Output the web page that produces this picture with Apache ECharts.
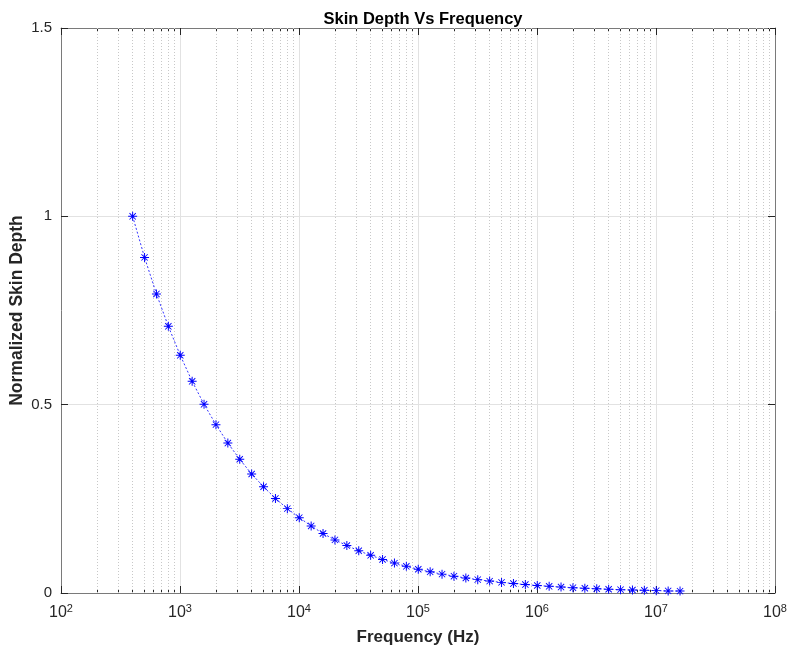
<!DOCTYPE html>
<html>
<head>
<meta charset="utf-8">
<script src="https://cdn.jsdelivr.net/npm/echarts@6/dist/echarts.min.js"></script>
<style>
  html, body { margin: 0; padding: 0; background: #ffffff; }
  #chart { width: 788px; height: 651px; }
</style>
</head>
<body>
<div id="chart"></div>
<script>
// Frequencies (Hz) of each sample
const frequency = [
  400, 503.6, 634.0, 798.1, 1005, 1265, 1592, 2005, 2524, 3177,
  4000, 5036, 6340, 7981, 10050, 12650, 15920, 20050, 25240, 31770,
  40000, 50360, 63400, 79810, 100500, 126500, 159200, 200500, 252400, 317700,
  400000, 503600, 634000, 798100, 1005000, 1265000, 1592000, 2005000, 2524000, 3177000,
  4000000, 5036000, 6340000, 7981000, 10050000, 12650000, 15920000
];
// Skin depth normalised to the value at the lowest frequency
const skinDepth = [
  1.000, 0.891, 0.794, 0.708, 0.631, 0.562, 0.501, 0.447, 0.398, 0.355,
  0.316, 0.282, 0.251, 0.224, 0.200, 0.178, 0.158, 0.141, 0.126, 0.112,
  0.100, 0.0891, 0.0794, 0.0708, 0.0631, 0.0562, 0.0501, 0.0447, 0.0398, 0.0355,
  0.0316, 0.0282, 0.0251, 0.0224, 0.0200, 0.0178, 0.0158, 0.0141, 0.0126, 0.0112,
  0.0100, 0.0089, 0.0079, 0.0071, 0.0063, 0.0056, 0.0050
];
// Decade tick exponents and the 2..9 minor tick positions of the log axis
const xDecadeExponents = [2, 3, 4, 5, 6, 7, 8];
const xMinorTicks = [
  200, 300, 400, 500, 600, 700, 800, 900,
  2000, 3000, 4000, 5000, 6000, 7000, 8000, 9000,
  20000, 30000, 40000, 50000, 60000, 70000, 80000, 90000,
  200000, 300000, 400000, 500000, 600000, 700000, 800000, 900000,
  2000000, 3000000, 4000000, 5000000, 6000000, 7000000, 8000000, 9000000,
  20000000, 30000000, 40000000, 50000000, 60000000, 70000000, 80000000, 90000000
];
const yTicks = [0, 0.5, 1, 1.5];

const xMin = Math.pow(10, xDecadeExponents[0]);
const xMax = Math.pow(10, xDecadeExponents[xDecadeExponents.length - 1]);

const axisColor = '#262626';
const boxColor = '#7a7a7a';
const font = '"Liberation Sans", Arial, Helvetica, sans-serif';

// Asterisk marker built from filled bars
const asterisk = 'path://' +
  'M-0.55 -5 L0.55 -5 L0.55 5 L-0.55 5 Z ' +
  'M-5 -0.55 L5 -0.55 L5 0.55 L-5 0.55 Z ' +
  'M-3.15 -3.85 L3.85 3.15 L3.15 3.85 L-3.85 -3.15 Z ' +
  'M3.15 -3.85 L3.85 -3.15 L-3.15 3.85 L-3.85 3.15 Z';

const chart = echarts.init(document.getElementById('chart'), null, { renderer: 'canvas' });

const baseX = {
  type: 'log',
  logBase: 10,
  min: xMin,
  max: xMax,
  gridIndex: 0
};

chart.setOption({
  animation: false,
  backgroundColor: '#ffffff',
  title: {
    text: 'Skin Depth Vs Frequency',
    left: 418,
    textAlign: 'center',
    top: 6,
    textStyle: { fontFamily: font, fontSize: 16.5, fontWeight: 'bold', color: '#000000' }
  },
  grid: { left: 61, right: 13, top: 28, bottom: 58, containLabel: false, outerBoundsMode: 'none' },
  xAxis: [
    Object.assign({}, baseX, {
      position: 'bottom',
      name: 'Frequency (Hz)',
      nameLocation: 'middle',
      nameGap: 36,
      nameMoveOverlap: false,
      nameTextStyle: { fontFamily: font, fontSize: 17, fontWeight: 'bold', color: axisColor },
      axisLine: { show: true, lineStyle: { color: boxColor, width: 1 } },
      axisTick: { show: true, inside: true, length: 7, lineStyle: { color: axisColor } },
      axisLabel: {
        margin: 10,
        formatter: function (v) {
          const e = Math.round(Math.log10(v));
          return '{b|10}{s|' + e + '}';
        },
        rich: {
          b: { fontFamily: font, fontSize: 16, color: axisColor },
          s: { fontFamily: font, fontSize: 11, color: axisColor, padding: [0, 0, 8, 0] }
        }
      },
      splitLine: { show: true, lineStyle: { color: '#e2e2e2', width: 1, type: 'solid' } },
      minorTick: { show: false },
      minorSplitLine: { show: false }
    }),
    Object.assign({}, baseX, {
      position: 'bottom',
      axisLine: { show: false },
      axisTick: { show: true, inside: true, length: 4, customValues: xMinorTicks, lineStyle: { color: axisColor } },
      axisLabel: { show: false },
      splitLine: { show: false }
    }),
    Object.assign({}, baseX, {
      position: 'top',
      axisLine: { show: true, lineStyle: { color: boxColor, width: 1 } },
      axisTick: { show: true, inside: true, length: 7, lineStyle: { color: axisColor } },
      axisLabel: { show: false },
      splitLine: { show: false }
    }),
    Object.assign({}, baseX, {
      position: 'top',
      axisLine: { show: false },
      axisTick: { show: true, inside: true, length: 4, customValues: xMinorTicks, lineStyle: { color: axisColor } },
      axisLabel: { show: false },
      splitLine: { show: false }
    })
  ],
  yAxis: [
    {
      type: 'value',
      position: 'left',
      min: yTicks[0],
      max: yTicks[yTicks.length - 1],
      interval: 0.5,
      name: 'Normalized Skin Depth',
      nameLocation: 'middle',
      nameGap: 35,
      nameMoveOverlap: false,
      nameRotate: 90,
      nameTextStyle: { fontFamily: font, fontSize: 17.5, fontWeight: 'bold', color: axisColor },
      axisLine: { show: true, lineStyle: { color: boxColor, width: 1 } },
      axisTick: { show: true, inside: true, length: 7, lineStyle: { color: axisColor } },
      axisLabel: {
        margin: 9,
        fontFamily: font, fontSize: 15, color: axisColor,
        formatter: function (v) { return String(v); }
      },
      splitLine: { show: true, lineStyle: { color: '#e2e2e2', width: 1 } }
    },
    {
      type: 'value',
      position: 'right',
      min: yTicks[0],
      max: yTicks[yTicks.length - 1],
      interval: 0.5,
      axisLine: { show: true, lineStyle: { color: boxColor, width: 1 } },
      axisTick: { show: true, inside: true, length: 7, lineStyle: { color: axisColor } },
      axisLabel: { show: false },
      splitLine: { show: false }
    }
  ],
  series: [
    {
      // Dotted minor grid of the log axis
      type: 'line',
      xAxisIndex: 0,
      yAxisIndex: 0,
      data: [],
      silent: true,
      markLine: {
        silent: true,
        symbol: ['none', 'none'],
        label: { show: false },
        lineStyle: { color: '#c8c8c8', width: 1, type: [1, 2] },
        emphasis: { disabled: true },
        data: xMinorTicks.map(function (v) { return { xAxis: v }; })
      }
    },
    {
      name: 'Skin depth',
      type: 'line',
      xAxisIndex: 0,
      yAxisIndex: 0,
      data: frequency.map(function (f, i) { return [f, skinDepth[i]]; }),
      symbol: asterisk,
      symbolSize: 9,
      showSymbol: true,
      itemStyle: { color: '#0000ff', borderWidth: 0 },
      lineStyle: { color: '#0000ff', width: 1, type: [2, 2], opacity: 0.8 },
      emphasis: { disabled: true },
      z: 5
    }
  ]
});
</script>
</body>
</html>
